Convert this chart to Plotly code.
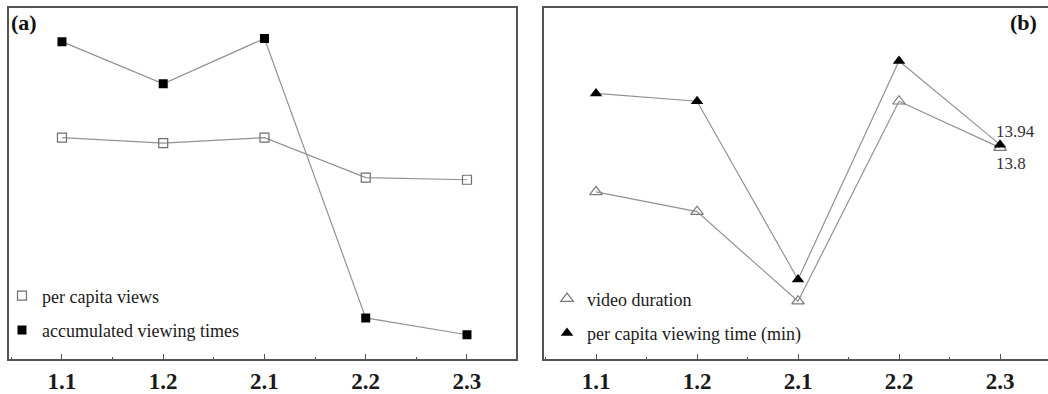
import plotly.graph_objects as go

categories = ["1.1", "1.2", "2.1", "2.2", "2.3"]
idx = list(range(len(categories)))

# panel (a) - relative scale (no y axis shown)
per_capita_views = [63.1, 61.5, 63.1, 51.7, 51.1]
accumulated_viewing_times = [90.4, 78.4, 91.3, 11.8, 7.0]

# panel (b) - minutes
video_duration = [11.70, 10.76, 6.51, 16.0, 13.8]
per_capita_viewing_time = [16.37, 16.0, 7.54, 17.91, 13.94]

LINE = dict(color="#929292", width=1.2)
FONT = "Liberation Serif"
AX = "#555555"

open_sq = dict(symbol="square-open", size=9, color="#6e6e6e", line=dict(width=1.2))
fill_sq = dict(symbol="square", size=9, color="#000000")
open_tri = dict(symbol="triangle-up-open", size=11, color="#7a7a7a", line=dict(width=1.2))
fill_tri = dict(symbol="triangle-up", size=11, color="#000000")

fig = go.Figure()

# panel a traces
fig.add_trace(go.Scatter(x=idx, y=per_capita_views, mode="lines+markers", line=LINE,
                         marker=open_sq, xaxis="x", yaxis="y", showlegend=False))
fig.add_trace(go.Scatter(x=idx, y=accumulated_viewing_times, mode="lines+markers", line=LINE,
                         marker=fill_sq, xaxis="x", yaxis="y", showlegend=False))
# panel b traces
fig.add_trace(go.Scatter(x=idx, y=video_duration, mode="lines+markers", line=LINE,
                         marker=open_tri, xaxis="x2", yaxis="y2", showlegend=False))
fig.add_trace(go.Scatter(x=idx, y=per_capita_viewing_time, mode="lines+markers", line=LINE,
                         marker=fill_tri, xaxis="x2", yaxis="y2", showlegend=False))

# legend-only entries (markers only)
fig.add_trace(go.Scatter(x=[None], y=[None], mode="markers", marker=open_sq, name="per capita views",
                         legend="legend", legendgroup="a1", xaxis="x", yaxis="y"))
fig.add_trace(go.Scatter(x=[None], y=[None], mode="markers", marker=fill_sq, name="accumulated viewing times",
                         legend="legend", legendgroup="a2", xaxis="x", yaxis="y"))
fig.add_trace(go.Scatter(x=[None], y=[None], mode="markers", marker=open_tri, name="video duration",
                         legend="legend2", legendgroup="b1", xaxis="x2", yaxis="y2"))
fig.add_trace(go.Scatter(x=[None], y=[None], mode="markers", marker=fill_tri, name="per capita viewing time (min)",
                         legend="legend2", legendgroup="b2", xaxis="x2", yaxis="y2"))

W, H = 1048, 394
yd = [(H - 364) / H, (H - 8) / H]

xcommon = dict(tickmode="array", tickvals=idx, ticktext=categories,
               ticks="inside", ticklen=6, tickwidth=1.2, tickcolor=AX,
               minor=dict(dtick=0.5, tick0=0, ticks="inside", ticklen=3, tickcolor=AX, tickwidth=1),
               showline=True, linecolor=AX, linewidth=1.6, mirror=True,
               showgrid=False, zeroline=False,
               tickfont=dict(family=FONT, size=23, color="#1a1a1a", weight="bold"))
ycommon = dict(showticklabels=False, ticks="", showgrid=False, zeroline=False,
               showline=True, linecolor=AX, linewidth=1.6)

fig.update_layout(
    width=W, height=H, margin=dict(l=0, r=0, t=0, b=0),
    paper_bgcolor="white", plot_bgcolor="white",
    xaxis=dict(domain=[9 / W, 516 / W], range=[-0.523, 4.484], **xcommon),
    yaxis=dict(domain=yd, range=[0, 100], mirror=True, **ycommon),
    xaxis2=dict(domain=[544 / W, 1.0], range=[-0.515, 4.475], anchor="y2", **xcommon),
    yaxis2=dict(domain=yd, range=[3.75, 20.43], anchor="x2", mirror=False, **ycommon),
    legend=dict(x=2 / W, y=(H - 281) / H, xanchor="left", yanchor="top",
                bgcolor="rgba(0,0,0,0)", font=dict(family=FONT, size=18, color="#1a1a1a"),
                itemwidth=30, tracegroupgap=8, traceorder="grouped"),
    legend2=dict(x=547 / W, y=(H - 284) / H, xanchor="left", yanchor="top",
                 bgcolor="rgba(0,0,0,0)", font=dict(family=FONT, size=18, color="#1a1a1a"),
                 itemwidth=30, tracegroupgap=8, traceorder="grouped"),
    annotations=[
        dict(text="(a)", xref="paper", yref="paper", x=9 / W, y=(H - 8) / H,
             xanchor="left", yanchor="top", showarrow=False,
             font=dict(family=FONT, size=22, color="#111", weight="bold")),
        dict(text="(b)", xref="paper", yref="paper", x=1039 / W, y=(H - 8) / H,
             xanchor="right", yanchor="top", showarrow=False,
             font=dict(family=FONT, size=22, color="#111", weight="bold")),
        dict(text=f"{per_capita_viewing_time[4]:.2f}", xref="x2", yref="y2",
             x=idx[4], y=per_capita_viewing_time[4], xanchor="left", yanchor="bottom",
             xshift=-6, yshift=2, showarrow=False,
             font=dict(family=FONT, size=17, color="#333")),
        dict(text=f"{video_duration[4]:g}", xref="x2", yref="y2",
             x=idx[4], y=video_duration[4], xanchor="left", yanchor="top",
             xshift=-6, yshift=-4, showarrow=False,
             font=dict(family=FONT, size=17, color="#333")),
    ],
)

fig.write_html("out.html", config={"displayModeBar": False},
               post_script="document.body.style.margin='0';document.body.style.overflow='hidden';")
